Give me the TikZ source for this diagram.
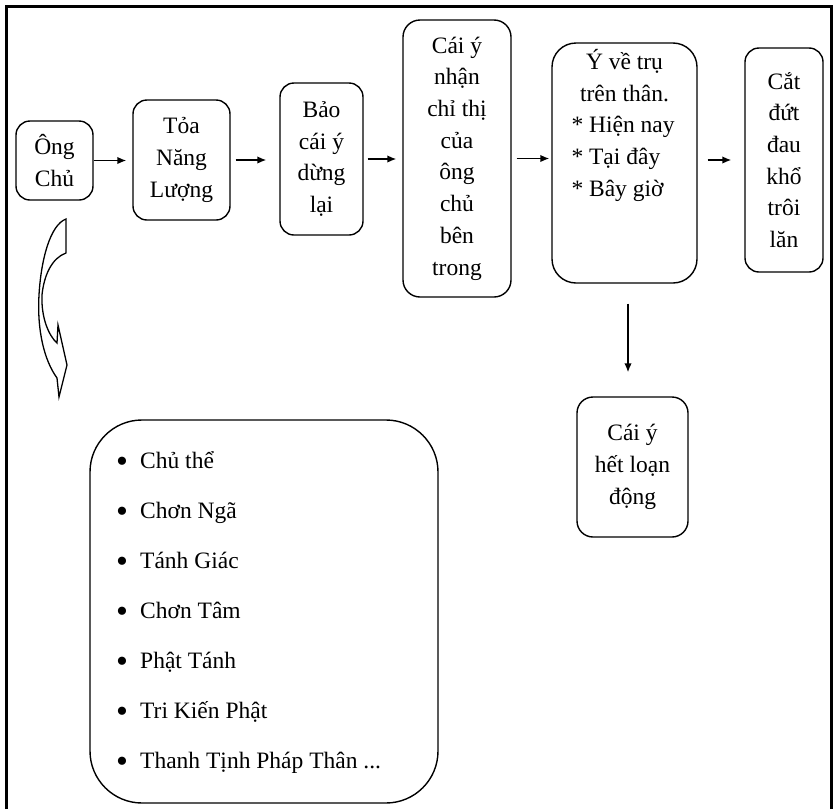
\documentclass[tikz,border=0pt]{standalone}
\usepackage{fontspec}
\setmainfont{Liberation Serif}
\usetikzlibrary{arrows.meta}
\newcommand{\listbullet}{\makebox[24pt][l]{\raisebox{-4.5pt}{\fontsize{34}{34}\selectfont •}}}
\begin{document}
\begin{tikzpicture}[x=1pt,y=-1pt,
  txt/.style={font=\fontsize{23.5}{31.7}\selectfont},
  box/.style={draw, line width=1.4pt, rounded corners=#1, inner sep=0pt,
    align=center, txt},
  box/.default=14pt,
  arr/.style={line width=1.5pt, -{Latex[length=9pt,width=7.5pt]}},
  listitem/.style={anchor=base west, inner sep=0pt, txt},
]
\useasboundingbox (0,0) rectangle (833,809);

% open frame: left, top and right sides
\draw[line width=3pt] (6,809) -- (6,6) -- (831,6) -- (831,809);

% top row of steps
\node[box, minimum width=77pt, minimum height=79pt] (ong) at (54.5,160.5) {Ông\\Chủ};
\node[box, minimum width=97pt, minimum height=120pt] (toa) at (181.5,160) {Tỏa\\Năng\\Lượng};
\node[box, minimum width=83pt, minimum height=152pt] (bao) at (321.5,159) {Bảo\\cái ý\\dừng\\lại};
\node[box=17pt, minimum width=108pt, minimum height=277pt] (cai) at (457,158.5)
  {Cái ý\\nhận\\chỉ thị\\của\\ông\\chủ\\bên\\trong};
\node[box=24pt, minimum width=145pt, minimum height=240pt] (yve) at (624.5,163) {};
\node[anchor=north, inner sep=0pt, align=center, txt] (yvetext) at (624.5,49)
  {Ý về trụ\\trên thân.\\
   \makebox[106pt][l]{* Hiện nay}\\
   \makebox[106pt][l]{* Tại đây}\\
   \makebox[106pt][l]{* Bây giờ}};
\node[box, minimum width=78pt, minimum height=224pt] (cat) at (784,160)
  {Cắt\\đứt\\đau\\khổ\\trôi\\lăn};

% result below
\node[box=16pt, minimum width=111pt, minimum height=140pt] (het) at (632.5,467)
  {Cái ý\\hết loạn\\động};

% list of names
\node[box=52pt, minimum width=348pt, minimum height=383pt] (list) at (264,611.5) {};
\node[listitem] (item1) at (116,468) {\listbullet Chủ thể};
\node[listitem] (item2) at (116,518) {\listbullet Chơn Ngã};
\node[listitem] (item3) at (116,568) {\listbullet Tánh Giác};
\node[listitem] (item4) at (116,618) {\listbullet Chơn Tâm};
\node[listitem] (item5) at (116,668) {\listbullet Phật Tánh};
\node[listitem] (item6) at (116,718) {\listbullet Tri Kiến Phật};
\node[listitem] (item7) at (116,768) {\listbullet Thanh Tịnh Pháp Thân ...};

% connectors
\draw[arr, shorten >=6pt] (ong.east) -- (ong.east -| toa.west);
\draw[arr, shorten <=5pt, shorten >=13pt] (toa.east) -- (toa.east -| bao.west);
\draw[arr, shorten <=4pt, shorten >=6pt] (bao.east) -- (bao.east -| cai.west);
\draw[arr, shorten <=5pt, shorten >=2pt] (cai.east) -- (cai.east -| yve.west);
\draw[arr, shorten <=10pt, shorten >=13pt] (yve.east |- cat.west) -- (cat.west);
\draw[arr, shorten <=20pt, shorten >=24pt] ([xshift=3.5pt]yve.south) -- ([xshift=3.5pt]yve.south |- het.north);

% curved arrow from the master down to the list
\draw[line width=1.3pt, line join=miter]
  (66,219) -- (66,253)
  .. controls (52,258) and (44,275) .. (42,295)
  .. controls (41,318) and (49,336) .. (57,343)
  -- (58,325) -- (67,365) -- (59,397) -- (57,378)
  .. controls (44,360) and (37,330) .. (39,295)
  .. controls (41,260) and (50,225) .. (66,219) -- cycle;
\end{tikzpicture}
\end{document}
